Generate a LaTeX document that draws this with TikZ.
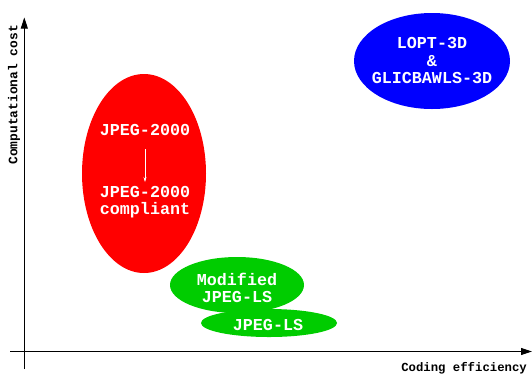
\documentclass[tikz,border=0pt]{standalone}
\usepackage{fontspec}
\setmonofont{Liberation Mono}
\usetikzlibrary{arrows.meta}
\definecolor{redfill}{RGB}{255,0,0}
\definecolor{greenfill}{RGB}{0,204,0}
\definecolor{bluefill}{RGB}{0,0,255}
\tikzset{
  axis/.style={line width=0.8pt, -{Triangle[length=11pt,width=7pt]}},
  lbl/.style={text=white, font=\ttfamily\bfseries\fontsize{16.7}{17.5}\selectfont, align=center, inner sep=0pt},
  axlbl/.style={font=\ttfamily\bfseries\fontsize{12.3}{14}\selectfont, inner sep=0pt},
  axlblv/.style={font=\ttfamily\bfseries\fontsize{12.9}{14}\selectfont, inner sep=0pt},
}
\begin{document}
\begin{tikzpicture}[x=1pt,y=-1pt]
\useasboundingbox (0,0) rectangle (532,376);
% axes
\coordinate (xs) at (10,351.5);
\coordinate (xe) at (532,351.5);
\coordinate (ys) at (24.3,369);
\coordinate (ye) at (24.3,17.5);
\draw[axis] (xs) -- (xe);
\draw[axis] (ys) -- (ye);
\node[axlbl, anchor=east] (xlab) at (527,368) {Coding efficiency};
\node[axlblv, rotate=90, anchor=east] (ylab) at (14,25) {Computational cost};
% regions
\fill[redfill] (144,173.5) ellipse [x radius=62, y radius=99.5];
\fill[greenfill] (237,285) ellipse [x radius=67, y radius=28];
\fill[greenfill] (269,323) ellipse [x radius=68, y radius=14];
\fill[bluefill] (432,61) ellipse [x radius=78, y radius=48];
% labels
\node[lbl] (j2k) at (145,130) {JPEG-2000};
\node[lbl] (j2kc) at (145,202) {JPEG-2000\\compliant};
\draw[white, line width=0.5pt, -{Stealth[length=5pt,width=3pt]}] (j2k.south |- 0,149) -- (j2k.south |- 0,182);
\node[lbl] (mls) at (237,288) {Modified\\JPEG-LS};
\node[lbl] (jls) at (268,324.5) {JPEG-LS};
\node[lbl] (lopt) at (432,61) {LOPT-3D\\\&\\GLICBAWLS-3D};
\end{tikzpicture}
\end{document}
